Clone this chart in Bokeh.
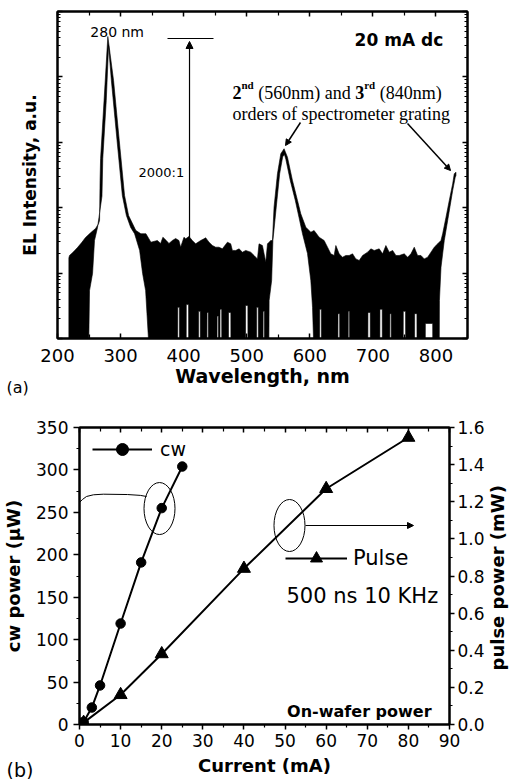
import math
from bokeh.plotting import figure
from bokeh.layouts import column
from bokeh.models import (Range1d, LinearAxis, LogAxis, FixedTicker, CustomJSTickFormatter,
                          PrintfTickFormatter, Label, Arrow, NormalHead, Legend, LegendItem, Title)
from bokeh.embed import file_html
from bokeh.resources import INLINE

SANS = "DejaVu Sans"
SERIF = "Liberation Serif"

# ---------------- (a) EL spectrum, 20 mA dc ----------------
# upper envelope of the noisy trace (wavelength nm, intensity a.u.)
upper_wl = [218.0, 219.0, 225.0, 231.7, 238.0, 244.4, 252.0, 260.3, 265.1, 266.7, 267.5, 268.3, 273.8, 279.8,
            288.9, 297.9, 306.3, 312.7, 322.7, 324.3, 332.2, 340.2, 348.1, 358.3, 363.5, 367.1, 372.5, 376.7,
            382.1, 387.3, 392.5, 395.2, 400.5, 403.2, 408.4, 413.8, 419.0, 427.0, 432.2, 434.9, 440.2, 445.6,
            450.8, 456.0, 461.4, 469.4, 474.6, 477.3, 482.5, 487.8, 493.2, 498.4, 506.3, 511.6, 517.0, 519.5,
            524.9, 530.2, 532.9, 535.4, 538.1, 540.8, 543.3, 548.7, 554.0, 559.2, 564.6, 572.5, 580.5, 585.7,
            593.7, 601.6, 606.8, 614.8, 622.7, 628.1, 633.3, 638.6, 641.3, 646.5, 651.9, 657.1, 662.4, 667.8,
            673.0, 678.3, 683.7, 691.6, 696.8, 702.1, 710.0, 715.4, 720.6, 725.9, 731.3, 736.5, 741.7, 749.7,
            755.1, 760.3, 765.6, 770.9, 776.2, 781.4, 786.8, 792.1, 797.3, 802.7, 807.9, 810.6, 815.9, 821.1,
            826.5, 829.0, 831.7]
upper_int = [17, 18.6, 21, 24.6, 29, 35, 41, 48, 57, 64, 261, 565, 4355, 41500,
             8810, 1066, 154, 76, 48, 44.8, 40, 40, 29.7, 31.5, 28.4, 35.4, 31.5, 28.4,
             31.5, 33.8, 31.5, 24.9, 35.4, 33.4, 36.3, 31.5, 28.0, 31.5, 33.4, 34.7, 29.7, 26.4,
             24.9, 24.9, 23.5, 29.7, 28.0, 22.2, 22.2, 23.5, 20.9, 22.2, 20.9, 18.6, 16.5, 28.0,
             26.4, 14.7, 28.0, 29.7, 31.5, 31.5, 102, 330, 667, 796, 592, 261, 129, 80.7,
             50.3, 42.2, 44.8, 35.4, 31.5, 24.9, 19.7, 18.6, 26.4, 19.7, 17.5, 18.6, 18.6, 19.7,
             16.5, 15.6, 18.6, 20.9, 23.5, 22.2, 23.5, 19.7, 26.4, 20.9, 22.2, 18.6, 18.6, 19.7,
             17.5, 19.7, 24.9, 18.6, 18.6, 16.5, 17.5, 20.9, 24.9, 28.0, 31.5, 39.9, 71.6, 129,
             232, 330, 349]
# lower envelope of the trace (0.5 = below the bottom of the axis)
lower_wl = [218.0, 249.2, 250.8, 255.6, 258.7, 263.5, 270.5, 271.8, 277.3, 281.0, 285.4, 294.4, 302.8, 309.2,
            316.0, 322.2, 330.2, 334.9, 339.7, 346.0,
            535.0, 535.5, 539.5, 541.5, 546.8, 552.2, 557.0, 559.8, 562.0, 569.0, 577.0, 583.0, 588.4, 596.3,
            601.6, 604.3, 606.8,
            805.2, 805.5, 808.0, 813.2, 818.6, 826.5, 830.5, 831.7]
lower_int = [0.5, 0.5, 5.4, 9.9, 31.5, 50, 150, 565, 4355, 30000, 8810, 1066, 154, 76,
             50, 40, 22.2, 9.9, 5.4, 0.5,
             0.5, 3.8, 7.7, 31.5, 102, 330, 600, 650, 550, 261, 129, 70, 40, 20,
             7.7, 3.0, 0.5,
             0.5, 3.8, 12.3, 31.5, 64, 183, 290, 310]
FLOOR = 0.5
# narrow dropouts of the noise floor (centre nm, half width nm, top a.u.)
gap_wl = [392, 406, 425, 438, 454, 459, 473, 500, 517, 527, 617, 646, 662, 694, 713, 728, 750, 768, 789]
gap_half = [1.5, 2, 1.5, 1.2, 1.2, 1.5, 2, 2, 1.5, 1.2, 1.5, 1.5, 1.2, 2, 2, 1.2, 2, 2, 6]
gap_top = [3.0, 3.3, 2.6, 2.5, 2.2, 2.8, 2.5, 3.2, 3.0, 2.6, 2.8, 2.4, 2.6, 2.5, 2.8, 2.4, 2.6, 2.4, 1.7]

wl_ticks = [200, 300, 400, 500, 600, 700, 800]
wl_minor = [250, 350, 450, 550, 650, 750, 850]
int_decades = [1, 10, 100, 1000, 10000, 100000]
int_minor = [m * 10 ** d for d in range(5) for m in range(2, 10)]

# ---------------- (b) L-I curves ----------------
current_cw = [0, 1, 3, 5, 10, 15, 20, 25]
power_cw = [0, 3, 20, 46, 119, 191, 255, 304]          # uW
current_pulse = [0, 1, 10, 20, 40, 60, 80]
power_pulse = [0, 0.01, 0.16, 0.38, 0.84, 1.27, 1.546]  # mW

cur_ticks = [0, 10, 20, 30, 40, 50, 60, 70, 80, 90]
cur_minor = [5, 15, 25, 35, 45, 55, 65, 75, 85]
cw_ticks = [0, 50, 100, 150, 200, 250, 300, 350]
cw_minor = [25, 75, 125, 175, 225, 275, 325]
pulse_ticks = [0.0, 0.2, 0.4, 0.6, 0.8, 1.0, 1.2, 1.4, 1.6]
pulse_minor = [0.1, 0.3, 0.5, 0.7, 0.9, 1.1, 1.3, 1.5]


def style(ax, ticks, minor, inward, label_size=None, standoff=0, tick_len=5, minor_len=3):
    ax.ticker = FixedTicker(ticks=ticks, minor_ticks=minor)
    ax.axis_line_width = 2
    ax.axis_line_color = "black"
    ax.major_tick_line_color = "black"
    ax.minor_tick_line_color = "black"
    ax.major_tick_line_width = 1.5
    ax.minor_tick_line_width = 1.2
    if inward:
        ax.major_tick_in, ax.major_tick_out = tick_len, 0
        ax.minor_tick_in, ax.minor_tick_out = minor_len, 0
    else:
        ax.major_tick_in, ax.major_tick_out = 0, tick_len
        ax.minor_tick_in, ax.minor_tick_out = 0, minor_len
    if label_size is None:
        ax.formatter = CustomJSTickFormatter(code="return ''")
        ax.major_label_standoff = 0
    else:
        ax.major_label_text_font = SANS
        ax.major_label_text_font_size = label_size
        ax.major_label_standoff = standoff
        ax.major_label_text_color = "black"


def title_axis(ax, text, size, standoff):
    ax.axis_label = text
    ax.axis_label_text_font = SANS
    ax.axis_label_text_font_size = size
    ax.axis_label_text_font_style = "bold"
    ax.axis_label_text_color = "black"
    ax.axis_label_standoff = standoff


def label(p, x, y, text, size, bold=False, font=SANS, align="left", baseline="alphabetic",
          y_range_name="default"):
    p.add_layout(Label(x=x, y=y, text=text, text_font=font, text_font_size=size,
                       text_font_style="bold" if bold else "normal", text_color="black",
                       text_align=align, text_baseline=baseline, y_range_name=y_range_name))


def no_align(p):
    if "frame_align" in p.properties():
        p.frame_align = False


# ======================= panel (a) =======================
pa = figure(frame_width=410, frame_height=327, output_backend="svg", toolbar_location=None,
            x_range=Range1d(200, 850), y_range=Range1d(1, 1e5), y_axis_type="log",
            min_border_left=57, min_border_right=47, min_border_top=11, min_border_bottom=62)
no_align(pa)
pa.grid.visible = False
pa.outline_line_color = "black"
pa.outline_line_width = 2
pa.background_fill_color = "white"
pa.border_fill_color = "white"

style(pa.xaxis[0], wl_ticks, wl_minor, True, "18px", standoff=10, tick_len=5, minor_len=4)
title_axis(pa.xaxis[0], "Wavelength, nm", "19px", 0)
style(pa.yaxis[0], int_decades, int_minor, True, tick_len=5, minor_len=3)
title_axis(pa.yaxis[0], "EL Intensity, a.u.", "17px", 18)
top_a = LinearAxis()
style(top_a, wl_ticks, wl_minor, True, tick_len=5, minor_len=4)
pa.add_layout(top_a, "above")
right_a = LogAxis()
style(right_a, int_decades, int_minor, True, tick_len=5, minor_len=3)
pa.add_layout(right_a, "right")
pa.add_layout(Title(text="(a)", align="left", offset=-51, standoff=-24, vertical_align="top",
                    text_font=SANS, text_font_size="16px", text_font_style="normal",
                    text_color="black"), "below")

# build the outline of the noisy trace
lower_pts = list(zip(lower_wl, lower_int))
for c, h, t in zip(gap_wl, gap_half, gap_top):
    lower_pts += [(c - h, FLOOR), (c - h + 0.2, t), (c + h - 0.2, t), (c + h, FLOOR)]
lower_pts.sort(key=lambda q: q[0])
xs = list(upper_wl) + [q[0] for q in reversed(lower_pts)]
ys = list(upper_int) + [q[1] for q in reversed(lower_pts)]
pa.patch(xs, ys, fill_color="black", line_color="black", line_width=0.6)

# 2000:1 marker
pa.segment(x0=[374.4], y0=[38650], x1=[447.3], y1=[38650], line_color="black", line_width=1.2)
pa.add_layout(Arrow(x_start=409.3, y_start=31.5, x_end=409.3, y_end=34800, line_color="black",
                    line_width=1.2, end=NormalHead(size=7, fill_color="black", line_color="black")))
# pointers to the grating orders
pa.add_layout(Arrow(x_start=585.2, y_start=2009, x_end=561.5, y_end=893, line_color="black",
                    line_width=1.5, end=NormalHead(size=6, fill_color="black", line_color="black")))
pa.add_layout(Arrow(x_start=754.9, y_start=1938, x_end=823.1, y_end=370, line_color="black",
                    line_width=1.5, end=NormalHead(size=6, fill_color="black", line_color="black")))

label(pa, 294.6, 48200, "280 nm", "14px", align="center")
label(pa, 811.5, 36900, "20 mA dc", "17px", bold=True, align="right")
label(pa, 328.4, 345, "2000:1", "13px")
label(pa, 477.4, 5770, "2", "18px", bold=True, font=SERIF)
label(pa, 491.7, 7650, "nd", "11px", bold=True, font=SERIF)
label(pa, 518.2, 5770, "(560nm) and", "18px", font=SERIF)
label(pa, 672.0, 5770, "3", "18px", bold=True, font=SERIF)
label(pa, 686.2, 7650, "rd", "11px", bold=True, font=SERIF)
label(pa, 710.8, 5770, "(840nm)", "18px", font=SERIF)
label(pa, 477.4, 2754, "orders of spectrometer grating", "18px", font=SERIF)

# ======================= panel (b) =======================
pb = figure(frame_width=370, frame_height=297, output_backend="svg", toolbar_location=None,
            x_range=Range1d(0, 90), y_range=Range1d(0, 350),
            min_border_left=79, min_border_right=65, min_border_top=27, min_border_bottom=55)
no_align(pb)
pb.extra_y_ranges = {"pulse": Range1d(0, 1.6)}
pb.grid.visible = False
pb.outline_line_color = "black"
pb.outline_line_width = 2
pb.background_fill_color = "white"
pb.border_fill_color = "white"

style(pb.xaxis[0], cur_ticks, cur_minor, False, "17px", standoff=4, tick_len=5, minor_len=3)
title_axis(pb.xaxis[0], "Current (mA)", "18px", 5)
style(pb.yaxis[0], cw_ticks, cw_minor, False, "17px", standoff=5, tick_len=6, minor_len=3)
title_axis(pb.yaxis[0], "cw power (\u03bcW)", "18px", 9)
top_b = LinearAxis()
style(top_b, cur_ticks, cur_minor, True, tick_len=5, minor_len=4)
pb.add_layout(top_b, "above")
right_b = LinearAxis(y_range_name="pulse")
style(right_b, pulse_ticks, pulse_minor, False, "17px", standoff=3, tick_len=5, minor_len=3)
right_b.formatter = PrintfTickFormatter(format="%.1f")
pb.add_layout(right_b, "right")
# title of the right-hand axis, reading bottom-to-top like the left one
right_title = LinearAxis(y_range_name="pulse", ticker=FixedTicker(ticks=[0.291], minor_ticks=[]),
                         formatter=CustomJSTickFormatter(code="return 'pulse power (mW)'"))
right_title.axis_line_color = None
right_title.major_tick_in = 0
right_title.major_tick_out = 0
right_title.minor_tick_in = 0
right_title.minor_tick_out = 0
right_title.major_label_orientation = math.pi / 2
right_title.major_label_standoff = 10
right_title.major_label_text_font = SANS
right_title.major_label_text_font_size = "18px"
right_title.major_label_text_font_style = "bold"
right_title.major_label_text_color = "black"
pb.add_layout(right_title, "right")
pb.add_layout(Title(text="(b)", align="left", offset=-73, standoff=-40, vertical_align="top",
                    text_font=SANS, text_font_size="19px", text_font_style="normal",
                    text_color="black"), "below")

cw_line = pb.line(current_cw, power_cw, line_color="black", line_width=2)
cw_pts = pb.scatter(current_cw, power_cw, marker="circle", size=9.5, fill_color="black",
                    line_color="black")
pu_line = pb.line(current_pulse, power_pulse, y_range_name="pulse", line_color="black", line_width=2)
pu_pts = pb.scatter(current_pulse, power_pulse, y_range_name="pulse", marker="triangle", size=13,
                    fill_color="black", line_color="black")

for items, loc, gw, so, fs in (([LegendItem(label="cw", renderers=[cw_line, cw_pts])], (13, 260), 60, 8, "19px"),
                               ([LegendItem(label="Pulse", renderers=[pu_line, pu_pts])], (206, 151), 62, 6, "21px")):
    lg = Legend(items=items, location=loc, glyph_width=gw, glyph_height=30, label_height=30,
                label_standoff=so, padding=0, margin=0, border_line_color=None,
                background_fill_alpha=0, label_text_font=SANS, label_text_font_size=fs,
                label_text_color="black")
    pb.add_layout(lg)

# circled groups with pointers to their axes
pb.ellipse(x=[19.46], y=[254.5], width=31, height=52, width_units="screen", height_units="screen",
           fill_color=None, line_color="black", line_width=1)
pb.line([0, 0.7, 1.7, 3.4, 5.8, 11.7, 14.8, 16.3], [261.6, 265.1, 268.7, 270.7, 271.4, 271.0, 270.0, 268.7],
        line_color="black", line_width=1)
pb.ellipse(x=[51.08], y=[1.072], width=31, height=52, width_units="screen", height_units="screen",
           fill_color=None, line_color="black", line_width=1, y_range_name="pulse")
pb.add_layout(Arrow(x_start=54.97, y_start=1.072, x_end=81.24, y_end=1.072, y_range_name="pulse",
                    line_color="black", line_width=1,
                    end=NormalHead(size=6, fill_color="black", line_color="black")))

label(pb, 50.35, 152.0, "500 ns 10 KHz", "21px")
label(pb, 50.5, 15.3, "On-wafer power", "16px", bold=True)

layout = column(pa, pb)
open("out.html", "w").write(file_html(layout, INLINE, title="EL spectrum and L-I"))
